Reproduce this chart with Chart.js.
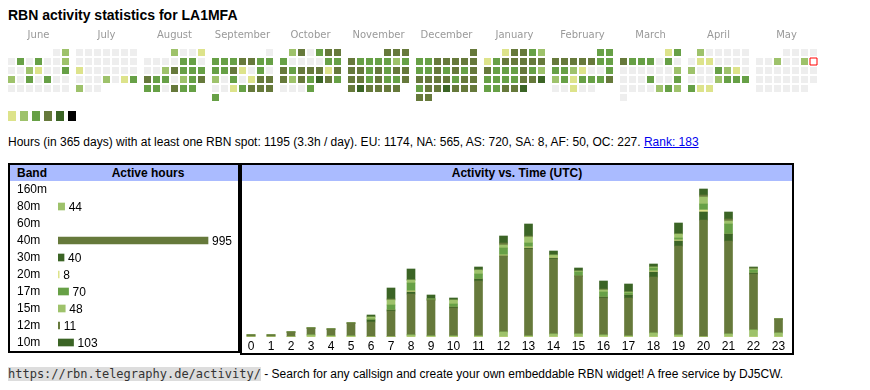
<!DOCTYPE html>
<html>
<head>
<meta charset="utf-8">
<script src="https://cdn.jsdelivr.net/npm/chart.js@4"></script>
<style>
    body { margin: 0; background: #fff; font-family: "Liberation Sans", Arial, sans-serif; color: #000; }
    .abs { position: absolute; }
    #title { left: 8px; top: 7px; font-size: 14px; font-weight: bold; }
    #info { left: 8px; top: 135px; font-size: 12px; white-space: nowrap; }
    #info a { color: #00e; }
    .box { border: 2px solid #000; box-sizing: border-box; }
    .hdr { background: #aabbff; font-size: 12px; font-weight: bold; height: 16px; line-height: 16px; }
    .sw { width: 8px; height: 10px; top: 111px; }
    #foot { left: 8px; top: 367px; font-size: 12px; white-space: nowrap; }
    #foot code { font-family: "DejaVu Sans Mono", monospace; font-size: 12px; background: #ddd; color: #333; }
</style>
</head>
<body>
<div id="title" class="abs">RBN activity statistics for LA1MFA</div>
<canvas id="cal" class="abs" style="left:0;top:27px" width="830" height="80"></canvas>
<div id="legend"></div>
<div id="info" class="abs">Hours (in 365 days) with at least one RBN spot: 1195 (3.3h / day). EU: 1174, NA: 565, AS: 720, SA: 8, AF: 50, OC: 227. <a href="#">Rank: 183</a></div>

<div class="abs box" style="left:8px;top:163px;width:232px;height:190px"></div>
<div class="abs hdr" style="left:10px;top:165px;width:228px">
    <span class="abs" style="left:7px">Band</span>
    <span class="abs" style="left:48px;width:180px;text-align:center">Active hours</span>
</div>
<canvas id="bands" class="abs" style="left:10px;top:181px" width="227" height="170"></canvas>

<div class="abs box" style="left:240px;top:163px;width:554px;height:192px"></div>
<div class="abs hdr" style="left:242px;top:165px;width:550px;text-align:center">Activity vs. Time (UTC)</div>
<canvas id="hours" class="abs" style="left:241px;top:182px" width="550" height="170"></canvas>

<div id="foot" class="abs"><code>https://rbn.telegraphy.de/activity/</code> - Search for any callsign and create your own embeddable RBN widget! A free service by DJ5CW.</div>

<script>
// colour levels 0..6
const levelColors = ['#eeeeee', '#dde38b', '#9ec26b', '#67a046', '#66793b', '#3b6425', '#000000'];

// calendar: activity level per day, June 2024 .. May 2025
const months = ['June', 'July', 'August', 'September', 'October', 'November', 'December',
    'January', 'February', 'March', 'April', 'May'];
const monthYears = [2024, 2024, 2024, 2024, 2024, 2024, 2024, 2025, 2025, 2025, 2025, 2025];
const monthNums  = [5, 6, 7, 8, 9, 10, 11, 0, 1, 2, 3, 4];
const jun = [0,2, 0,3,0,3,0,0,2, 0,0,2,1,0,0,3, 2,0,3,0,3,0,0, 0,0,0,0,0,0,0];
const jul = [0,0,0,0,0,0,0, 0,0,0,0,0,0,0, 1,0,0,0,0,0,0, 0,0,0,2,0,1,3, 2,0,0];
const aug = [2,0,0,1, 0,0,0,0,3,3,0, 0,0,2,4,3,3,3, 4,3,3,0,2,3,4, 3,3,0,4,3,3];
const sep = [0, 3,3,3,4,4,3,3, 3,3,4,1,0,3,0, 2,0,3,0,1,4,4, 0,0,1,3,4,4,4, 3];
const oct = [2,4,0,3,4,4, 3,0,0,0,0,3,3, 4,3,4,4,4,1,4, 4,2,4,3,5,4,3, 0,0,0,3];
const nov = [4,4,4, 4,3,3,3,3,2,3, 4,4,3,4,3,4,4, 4,4,3,4,3,3,4, 4,5,4,4,4,4];
const dec = [4, 3,3,4,4,4,4,4, 3,3,4,3,4,3,4, 4,4,4,4,3,4,4, 3,4,4,5,4,4,4, 4,4];
const jan = [1,4,4,3,2, 1,3,4,4,4,4,4, 4,3,3,3,4,3,2, 3,3,3,3,4,4,5, 3,3,4,4,5];
const feb = [3,3, 4,4,4,4,4,3,3, 3,3,2,1,0,0,3, 2,3,1,3,3,3,4, 0,0,1,0,0];
const mar = [1,3, 4,3,3,3,0,3,0, 0,0,0,0,0,0,2, 0,0,0,3,0,0,3, 0,0,0,0,2,3,2, 0];
const apr = [2,0,0,0,0,0, 0,1,1,0,0,0,0, 2,0,0,3,2,1,0, 0,0,0,2,3,3,3, 3,1,1];
const may = [0,0,0,0, 0,0,2,0,0,2,0, 0,0,0,0,0,0,0, 0,0,0,0,0,0,0, 0,0,0,0,0,0];
const dayLevels = [jun, jul, aug, sep, oct, nov, dec, jan, feb, mar, apr, may];
const todayMonth = 11, todayDay = 11;

// band table
const bands = ['160m', '80m', '60m', '40m', '30m', '20m', '17m', '15m', '12m', '10m'];
const bandHours = [0, 44, 0, 995, 40, 8, 70, 48, 11, 103];
const bandColors = ['#dde38b', '#9ec26b', '#67a046', '#66793b', '#3b6425',
    '#dde38b', '#67a046', '#9ec26b', '#66793b', '#3b6425'];

// activity per UTC hour, stacked per band (bottom to top)
const hourLabels = ['0','1','2','3','4','5','6','7','8','9','10','11',
    '12','13','14','15','16','17','18','19','20','21','22','23'];
const h160 = [0,0,0,0,0,0,0,0,0,0,0,0,0,0,0,0,0,0,0,0,0,0,0,0];
const h80  = [0,0,0,2,1,1,0,0,2,1,1,1,5,1,3,3,2,1,4,2,0,3,7,4];
const h60  = [0,0,0,0,0,0,0,0,0,0,0,0,0,0,0,0,0,0,0,0,0,0,0,0];
const h40  = [2,2,5,7,7,13,15,26,41,36,28,55,76,87,75,58,37,38,56,89,117,93,56,14];
const h30  = [0,0,0,0,0,0,2,1,2,0,1,2,0,1,1,0,1,3,5,5,8,7,1,0];
const h20  = [0,0,0,0,0,0,0,0,1,0,0,0,1,1,1,0,0,0,1,1,2,0,0,0];
const h17  = [0,0,0,0,0,0,1,5,8,1,3,5,7,4,0,4,5,2,3,2,6,10,3,0];
const h15  = [0,0,0,0,0,0,2,5,3,0,4,4,3,6,2,1,2,1,1,4,7,3,1,0];
const h12  = [0,0,0,0,0,0,0,1,0,0,0,0,2,1,0,0,1,0,0,0,2,2,1,0];
const h10  = [0,0,0,0,0,0,2,11,11,4,2,3,7,12,4,3,8,8,3,11,6,7,1,0];
const hourSeries = [h160, h80, h60, h40, h30, h20, h17, h15, h12, h10];

Chart.defaults.font.family = '"Liberation Sans", Arial, sans-serif';
Chart.defaults.animation = false;
Chart.defaults.layout.autoPadding = false;
Chart.defaults.plugins.legend.display = false;
Chart.defaults.plugins.tooltip.enabled = false;

// ---- calendar heatmap ----
const CELL = 9;                 // px per cell step
const MONTH_STEP = 68 / CELL;   // month block step in cell units
let calPoints = [], calFill = [], calBorder = [], calBw = [];
dayLevels.forEach((days, m) => {
    const first = new Date(monthYears[m], monthNums[m], 1).getDay();
    const offset = (first + 6) % 7;   // monday first
    days.forEach((lvl, d) => {
        const slot = d + offset;
        calPoints.push({x: m * MONTH_STEP + slot % 7, y: Math.floor(slot / 7)});
        const today = (m === todayMonth && d + 1 === todayDay);
        calFill.push(today ? '#ffffff' : levelColors[lvl]);
        calBorder.push(today ? '#ff0000' : levelColors[lvl]);
        calBw.push(today ? 1 : 0);
    });
});

const monthLabels = {
    id: 'monthLabels',
    afterDraw(chart) {
        const {ctx, chartArea} = chart;
        const x = chart.scales.x;
        ctx.save();
        ctx.font = '10px "DejaVu Sans", sans-serif';
        ctx.fillStyle = '#999';
        ctx.textAlign = 'center';
        ctx.textBaseline = 'middle';
        months.forEach((name, i) => {
            ctx.fillText(name, x.getPixelForValue(i * MONTH_STEP + 3), chartArea.top - 13);
        });
        ctx.restore();
    }
};

const xMin = -11.5 / CELL;
new Chart(document.getElementById('cal'), {
    type: 'scatter',
    data: {
        datasets: [{
            data           : calPoints,
            pointStyle     : 'rect',
            pointRadius    : 3.5 * Math.SQRT2,
            backgroundColor: calFill,
            borderColor    : calBorder,
            borderWidth    : calBw,
            clip           : false
        }]
    },
    options: {
        responsive: false,
        layout    : {padding: {top: 21, bottom: 5, left: 0, right: 0}},
        scales    : {
            x: {display: false, min: xMin, max: xMin + 830 / CELL},
            y: {display: false, min: -0.5, max: 5.5, reverse: true}
        }
    },
    plugins: [monthLabels]
});

document.getElementById('legend').innerHTML = levelColors.slice(1).map((c, i) =>
    '<div class="abs sw" style="left:' + (8 + i * 12) + 'px;background:' + c + '"></div>').join('');

// ---- band table ----
const valueLabels = {
    id: 'valueLabels',
    afterDatasetsDraw(chart) {
        const ctx = chart.ctx;
        const meta = chart.getDatasetMeta(0);
        ctx.save();
        ctx.font = '12px "Liberation Sans", Arial, sans-serif';
        ctx.fillStyle = '#000';
        ctx.textBaseline = 'middle';
        meta.data.forEach((bar, i) => {
            if (!bandHours[i]) return;
            ctx.fillText(bandHours[i], bar.x + 4, bar.y + 1);
        });
        ctx.restore();
    }
};

new Chart(document.getElementById('bands'), {
    type: 'bar',
    data: {
        labels  : bands,
        datasets: [{
            data           : bandHours.map(v => v || null),
            backgroundColor: bandColors,
            barThickness   : 7
        }]
    },
    options: {
        indexAxis : 'y',
        responsive: false,
        layout    : {padding: {left: 7, right: 0, top: 0, bottom: 0}},
        scales    : {
            x: {display: false, min: 0, max: 995 * 179 / 150},
            y: {
                grid    : {display: false, drawTicks: false},
                border  : {display: false},
                ticks   : {autoSkip: false, crossAlign: 'far', color: '#000', font: {size: 12}, padding: 0},
                afterFit: s => {
                    s.width = 41;
                    s.paddingTop = 0;
                    s.paddingBottom = 0;
                }
            }
        }
    },
    plugins: [valueLabels]
});

// ---- activity vs time ----
// table columns are wider for two-digit hours
const colWidths = hourLabels.map(l => l.length === 1 ? 20 : 25);
const hourPos = colWidths.map((w, i) => colWidths.slice(0, i).reduce((a, b) => a + b, 0) + w / 2);
const totalWidth = colWidths.reduce((a, b) => a + b, 0);

new Chart(document.getElementById('hours'), {
    type: 'bar',
    data: {
        datasets: hourSeries.map((vals, b) => ({
            label          : bands[b],
            data           : vals.map((v, h) => ({x: hourPos[h], y: v})),
            backgroundColor: bandColors[b],
            barThickness   : 8
        }))
    },
    options: {
        responsive: false,
        layout    : {padding: 0},
        scales    : {
            x: {
                type   : 'linear',
                stacked: true,
                offset : false,
                min    : 0,
                max    : totalWidth,
                grid   : {display: false, drawTicks: false},
                border : {display: false},
                ticks  : {
                    autoSkip   : false,
                    maxRotation: 0,
                    padding    : 2,
                    color      : '#000',
                    font       : {size: 12},
                    callback   : v => hourLabels[hourPos.indexOf(v)]
                },
                afterBuildTicks: s => { s.ticks = hourPos.map(v => ({value: v})); },
                afterFit       : s => {
                    s.height = 15;
                    s.paddingLeft = 0;
                    s.paddingRight = 0;
                }
            },
            y: {display: false, stacked: true, min: 0, max: 155}
        }
    }
});
</script>
</body>
</html>
